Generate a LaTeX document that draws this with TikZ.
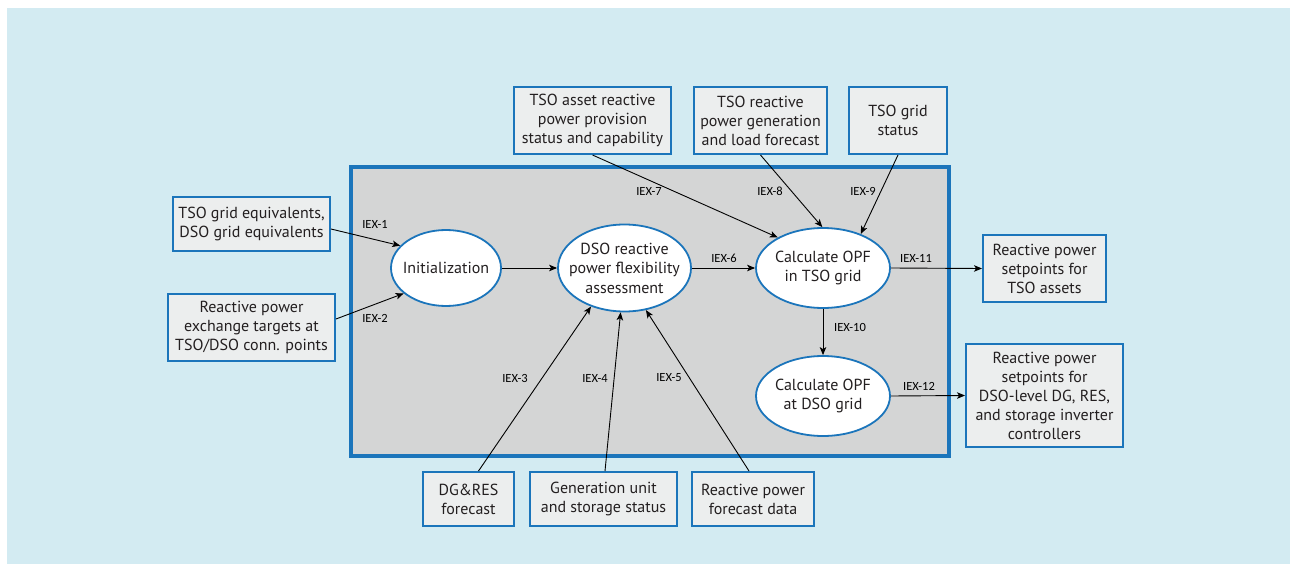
\documentclass[tikz,border=0pt]{standalone}
\usepackage{fontspec}
\setmainfont{PT Sans}
\newfontfamily\lblfont{Carlito}
\usetikzlibrary{arrows.meta,shapes.geometric}
\definecolor{skyback}{HTML}{D3EBF2}
\definecolor{panelgray}{HTML}{D4D5D5}
\definecolor{boxfill}{HTML}{ECEEEE}
\definecolor{frameblue}{HTML}{1B75BB}
\definecolor{inkdark}{HTML}{231F20}
\tikzset{
  databox/.style={draw=frameblue, line width=2pt, fill=boxfill, inner sep=0pt,
    align=center, text=inkdark, font=\fontsize{16}{19}\selectfont},
  proc/.style={ellipse, draw=frameblue, line width=1.8pt, fill=white, inner sep=0pt},
  proctext/.style={align=center, text=inkdark, inner sep=0pt,
    font=\fontsize{16}{19.5}\selectfont},
  flow/.style={-{Stealth[length=8pt,width=6.5pt,inset=2pt]}, line width=0.9pt, black},
  iex/.style={font=\lblfont\fontsize{12.5}{14}\selectfont, text=black, inner sep=0pt},
}
\begin{document}
\begin{tikzpicture}[x=1pt,y=-1pt]
\useasboundingbox (0,0) rectangle (1290,564);
\fill[white] (0,0) rectangle (1290,564);
\fill[skyback] (7,8) rectangle (1290,564);
% process area
\draw[fill=panelgray, draw=frameblue, line width=4pt] (351,167.5) rectangle (949,456);

% input / output boxes
\node[databox, minimum width=157, minimum height=67] (ta) at (592.5,120.5)
  {TSO asset reactive\\power provision\\status and capability};
\node[databox, minimum width=133, minimum height=67] (tb) at (760.5,120.5)
  {TSO reactive\\power generation\\and load forecast};
\node[databox, minimum width=98, minimum height=67] (tc) at (898,120.5)
  {TSO grid\\status};
\node[databox, minimum width=157, minimum height=54] (l1) at (251.5,224)
  {TSO grid equivalents,\\DSO grid equivalents};
\node[databox, minimum width=167, minimum height=67] (l2) at (251.5,327.5)
  {Reactive power\\exchange targets at\\TSO/DSO conn. points};
\node[databox, minimum width=123, minimum height=67] (r1) at (1044.5,268.5)
  {Reactive power\\setpoints for\\TSO assets};
\node[databox, minimum width=157, minimum height=103] (r2) at (1044.5,395.5)
  {Reactive power\\setpoints for\\DSO-level DG, RES,\\and storage inverter\\controllers};
\node[databox, minimum width=91, minimum height=54] (b1) at (468.5,499)
  {DG\&RES\\forecast};
\node[databox, minimum width=147, minimum height=54] (b2) at (603.5,499)
  {Generation unit\\and storage status};
\node[databox, minimum width=122, minimum height=54] (b3) at (753,499)
  {Reactive power\\forecast data};

% processes
\node[proc, minimum width=110, minimum height=76,
  label={[proctext]center:Initialization}] (init) at (446,268) {};
\node[proc, minimum width=133, minimum height=87,
  label={[proctext]center:DSO reactive\\power flexibility\\assessment}] (dso) at (624.5,268) {};
\node[proc, minimum width=134, minimum height=80,
  label={[proctext]center:Calculate OPF\\in TSO grid}] (tso) at (823,268) {};
\node[proc, minimum width=134, minimum height=80,
  label={[proctext]center:Calculate OPF\\at DSO grid}] (dsg) at (823,396) {};

% information exchanges
\draw[flow] ([yshift=-5pt]l1.east) -- (init.154);
\draw[flow] ([yshift=8.5pt]l2.east) -- (init.211);
\draw[flow] (init.east) -- (dso.west);
\draw[flow] ([xshift=10pt]b1.north) -- (dso.229);
\draw[flow] ([xshift=1.5pt]b2.north) -- (dso.265);
\draw[flow] ([xshift=-4pt]b3.north) -- (dso.297);
\draw[flow] (dso.east) -- (tso.west);
\draw[flow] (ta.south) -- (tso.146);
\draw[flow] (tb.south) -- (tso.91);
\draw[flow] (tc.south) -- (tso.42);
\draw[flow] (tso.south) -- (dsg.north);
\draw[flow] (tso.east) -- (r1.west);
\draw[flow] (dsg.east) -- (r2.west);

% exchange labels
\node[iex] (x1) at (375,224) {IEX-1};
\node[iex] (x2) at (375,318) {IEX-2};
\node[iex] (x3) at (515,378) {IEX-3};
\node[iex] (x4) at (595,378) {IEX-4};
\node[iex] (x5) at (669,378) {IEX-5};
\node[iex] (x6) at (724,258) {IEX-6};
\node[iex] (x7) at (649,191) {IEX-7};
\node[iex] (x8) at (770,191) {IEX-8};
\node[iex] (x9) at (863,191) {IEX-9};
\node[iex] (x10) at (850,327) {IEX-10};
\node[iex] (x11) at (916,258) {IEX-11};
\node[iex] (x12) at (919,386) {IEX-12};
\end{tikzpicture}
\end{document}
